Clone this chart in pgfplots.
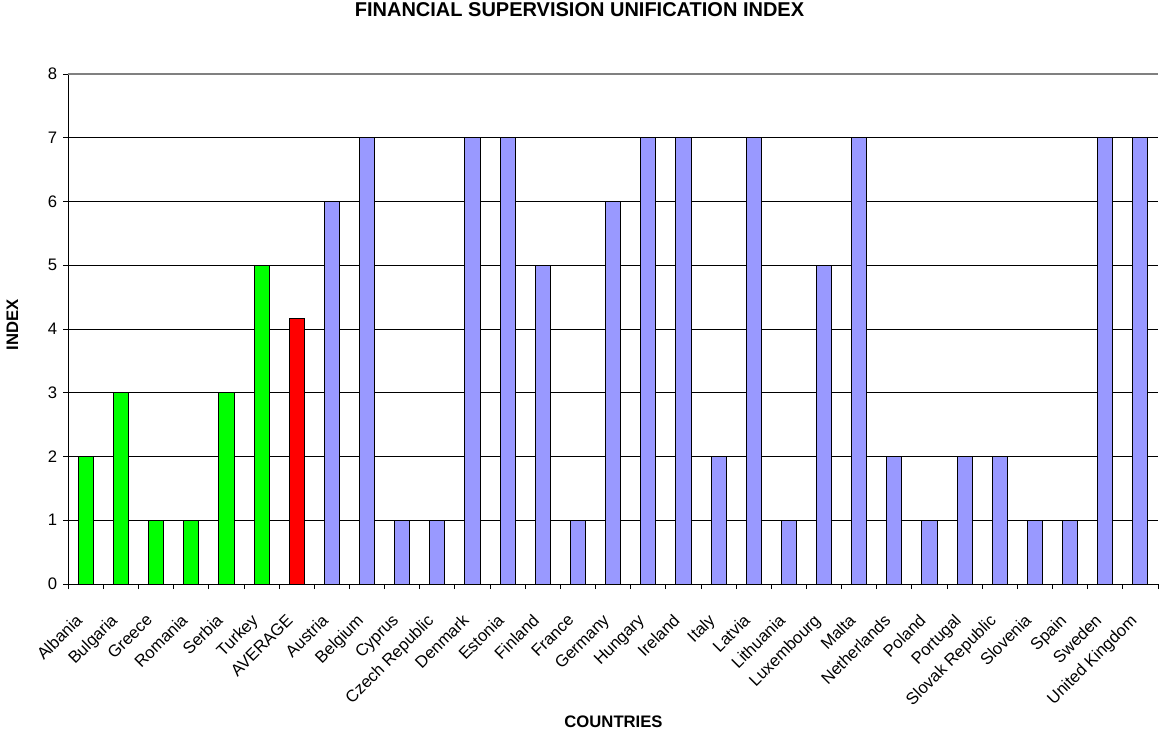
\documentclass[border=0pt]{standalone}
\usepackage{fontspec}
\setmainfont{Liberation Sans}
\usepackage{pgfplots}
\pgfplotsset{compat=1.18}
\definecolor{barGreen}{RGB}{0,255,0}
\definecolor{barRed}{RGB}{255,0,0}
\definecolor{barBlue}{RGB}{153,153,255}
\begin{document}
\begin{tikzpicture}
\useasboundingbox (0,0) rectangle (579.5pt,366.5pt);
\begin{axis}[
  at={(34.15pt,74.5pt)}, anchor=south west,
  scale only axis, width=544.85pt, height=255pt,
  xmin=-0.5, xmax=30.5, ymin=0, ymax=8,
  ytick={0,1,...,7},
  extra y ticks={8},
  extra y tick style={grid style={gray, line width=1pt}},
  xtick={0,1,...,30},
  xticklabels={Albania,Bulgaria,Greece,Romania,Serbia,Turkey,AVERAGE,Austria,Belgium,Cyprus,Czech Republic,Denmark,Estonia,Finland,France,Germany,Hungary,Ireland,Italy,Latvia,Lithuania,Luxembourg,Malta,Netherlands,Poland,Portugal,Slovak Republic,Slovenia,Spain,Sweden,United Kingdom},
  minor xtick={-0.5,0.5,...,30.5},
  major x tick style={draw=none},
  tick align=outside,
  major tick length=2.5pt, minor tick length=2.5pt,
  tick style={black, line width=0.5pt},
  axis x line*=bottom, axis y line*=left,
  axis line style={black, line width=0.5pt, -},
  ymajorgrids, grid style={black, line width=0.5pt},
  /pgf/number format/assume math mode=true,
  ticklabel style={font=\fontsize{8.33}{10}\selectfont},
  xticklabel style={rotate=45, anchor=north east, inner sep=0.333em, xshift=-9pt, yshift=-1pt},
  yticklabel style={xshift=0.5pt},
  ybar, bar width=0.43,
  every axis plot/.append style={bar shift=0pt, draw=black, line width=0.5pt},
]
\addplot[fill=barGreen] coordinates {(0,2) (1,3) (2,1) (3,1) (4,3) (5,5)};
\addplot[fill=barRed] coordinates {(6,4.1667)};
\addplot[fill=barBlue] coordinates {(7,6) (8,7) (9,1) (10,1) (11,7) (12,7) (13,5) (14,1) (15,6) (16,7) (17,7) (18,2) (19,7) (20,1) (21,5) (22,7) (23,2) (24,1) (25,2) (26,2) (27,1) (28,1) (29,7) (30,7)};
\end{axis}
\node[font=\fontsize{10}{12}\selectfont\bfseries] at (289.75pt,361.5pt) {FINANCIAL SUPERVISION UNIFICATION INDEX};
\node[font=\fontsize{8.33}{10}\selectfont\bfseries] at (306.75pt,5.75pt) {COUNTRIES};
\node[font=\fontsize{8.33}{10}\selectfont\bfseries, rotate=90] at (6.25pt,204pt) {INDEX};
\end{tikzpicture}
\end{document}
